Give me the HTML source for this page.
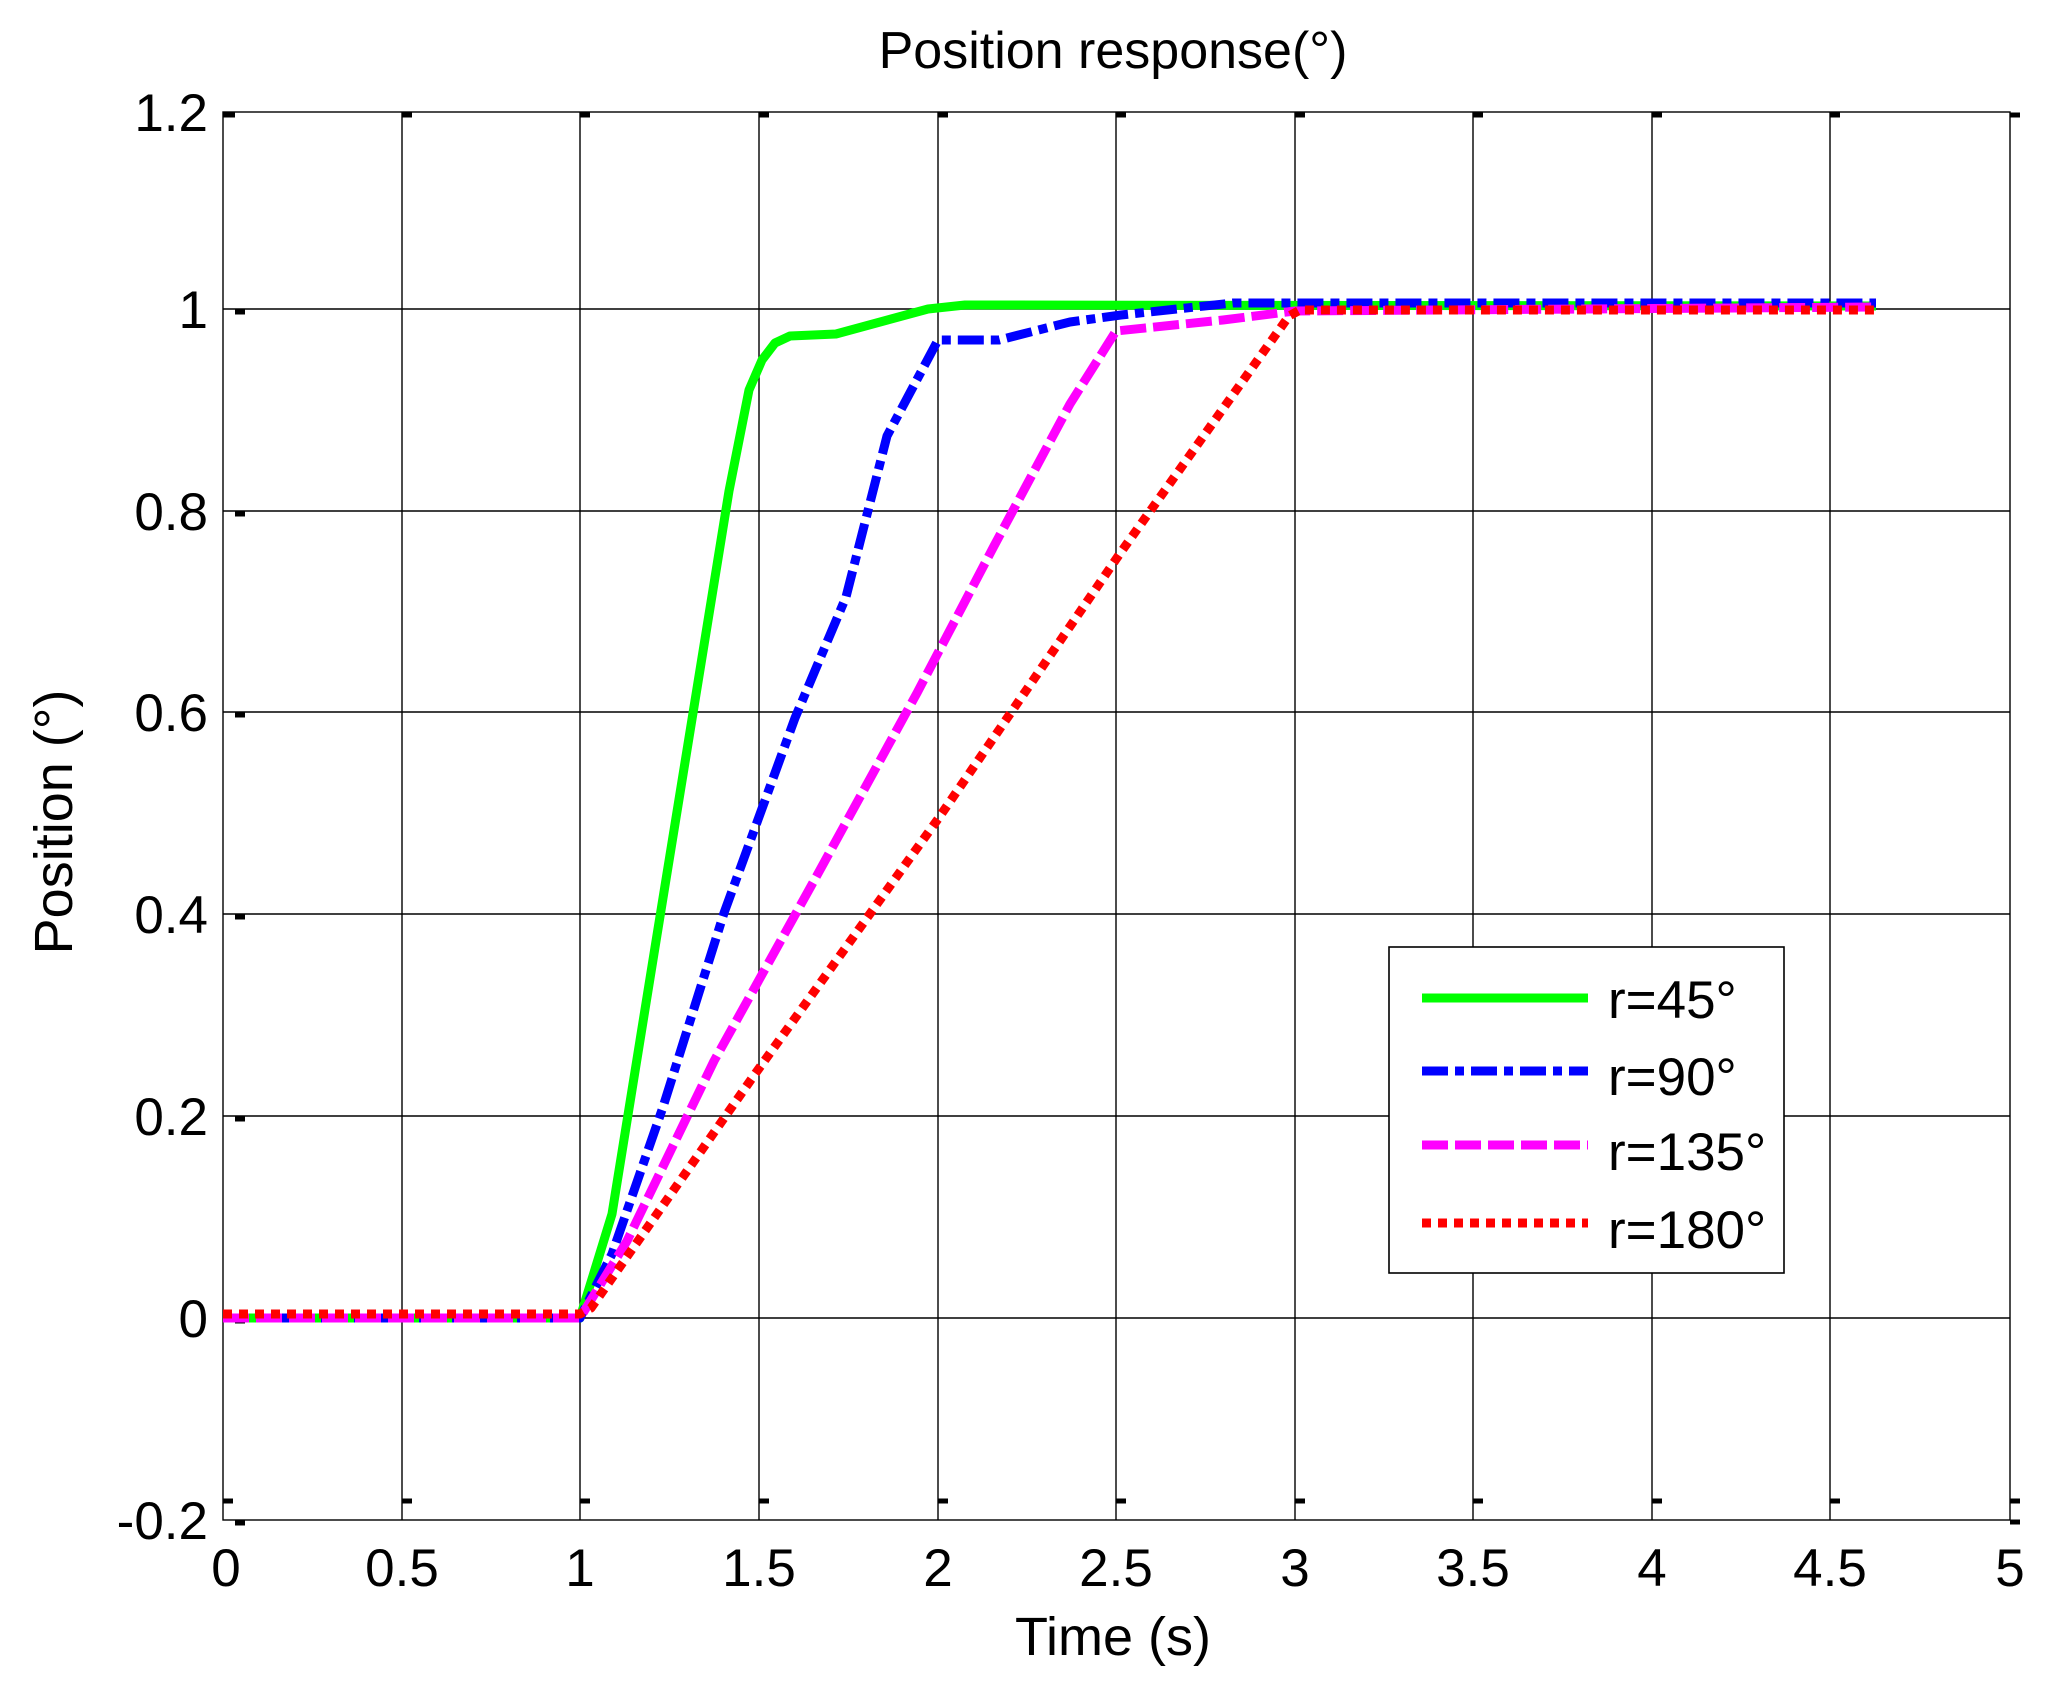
<!DOCTYPE html>
<html><head><meta charset="utf-8"><style>
html,body{margin:0;padding:0;background:#fff;}
svg{display:block;}
text{font-family:"Liberation Sans",Arial,sans-serif;fill:#000;}
</style></head><body>
<svg width="2061" height="1697" viewBox="0 0 2061 1697" xmlns="http://www.w3.org/2000/svg">
<rect width="2061" height="1697" fill="#fff"/>
<!-- grid -->
<g stroke="#000" stroke-width="1.4" fill="none">
<path d="M402 112V1520M580 112V1520M759 112V1520M938 112V1520M1116 112V1520M1295 112V1520M1473 112V1520M1652 112V1520M1830 112V1520"/>
<path d="M223 309H2010M223 511H2010M223 712H2010M223 914H2010M223 1116H2010M223 1318H2010"/>
<rect x="223" y="112" width="1787" height="1408"/>
</g>
<!-- tick marks -->
<g stroke="#000" stroke-width="5">
<path d="M223 115h12M402 115h10M580 115h10M759 115h10M938 115h10M1116 115h10M1295 115h10M1473 115h10M1652 115h10M1830 115h10M2010 115h10"/>
<path d="M235 312h10M235 514h10M235 715h10M235 917h10M235 1119h10M235 1321h10M235 1523h10"/>
<path d="M223 1501h10M402 1501h10M580 1501h10M759 1501h10M938 1501h10M1116 1501h10M1295 1501h10M1473 1501h10M1652 1501h10M1830 1501h10M2010 1501h10M2010 1522h10"/>
</g>
<!-- y tick labels -->
<g font-size="53" text-anchor="end">
<text x="208" y="131">1.2</text>
<text x="208" y="328">1</text>
<text x="208" y="530">0.8</text>
<text x="208" y="731">0.6</text>
<text x="208" y="933">0.4</text>
<text x="208" y="1135">0.2</text>
<text x="208" y="1337">0</text>
<text x="208" y="1539">-0.2</text>
</g>
<!-- x tick labels -->
<g font-size="53" text-anchor="middle">
<text x="226" y="1586">0</text>
<text x="402" y="1586">0.5</text>
<text x="580" y="1586">1</text>
<text x="759" y="1586">1.5</text>
<text x="938" y="1586">2</text>
<text x="1116" y="1586">2.5</text>
<text x="1295" y="1586">3</text>
<text x="1473" y="1586">3.5</text>
<text x="1652" y="1586">4</text>
<text x="1830" y="1586">4.5</text>
<text x="2010" y="1586">5</text>
</g>
<text x="1113" y="68" font-size="52" text-anchor="middle">Position response(°)</text>
<text x="1113" y="1655" font-size="54" text-anchor="middle">Time (s)</text>
<text transform="translate(72,822) rotate(-90)" font-size="54" text-anchor="middle">Position (°)</text>
<!-- series -->
<g fill="none" stroke-width="9" stroke-linejoin="round">
<polyline stroke="#00ff00" points="223,1318 580,1318 612,1214 657,935 693,713 729,491 749,390 762,360 775,343 790,336 836,334 928,309 965,305 1876,306"/>
<polyline stroke="#0000ff" stroke-dasharray="26,7,9,7" points="223,1318 580,1318 612,1254 663,1107 724,913 795,718 846,597 887,436 938,340 999,340 1070,322 1121,315 1233,303 1876,303"/>
<polyline stroke="#ff00ff" stroke-dasharray="26,7" points="223,1318 580,1318 627,1241 714,1061 815,879 917,693 994,546 1070,404 1116,331 1223,320 1295,311 1876,307"/>
<polyline stroke="#ff0000" stroke-dasharray="9,7" points="223,1314 580,1314 591,1308 755,1074 938,819 1121,552 1289,316 1300,310 1876,310"/>
</g>
<!-- legend -->
<rect x="1389" y="947" width="395" height="326" fill="#fff" stroke="#000" stroke-width="1.6"/>
<g stroke-width="9">
<line x1="1422" y1="998" x2="1588" y2="998" stroke="#00ff00"/>
<line x1="1422" y1="1071" x2="1588" y2="1071" stroke="#0000ff" stroke-dasharray="26,7,9,7"/>
<line x1="1422" y1="1145" x2="1588" y2="1145" stroke="#ff00ff" stroke-dasharray="26,7"/>
<line x1="1422" y1="1223" x2="1588" y2="1223" stroke="#ff0000" stroke-dasharray="9,7"/>
</g>
<g font-size="53">
<text x="1608" y="1018">r=45°</text>
<text x="1608" y="1095">r=90°</text>
<text x="1608" y="1170">r=135°</text>
<text x="1608" y="1248">r=180°</text>
</g>
</svg>
</body></html>
